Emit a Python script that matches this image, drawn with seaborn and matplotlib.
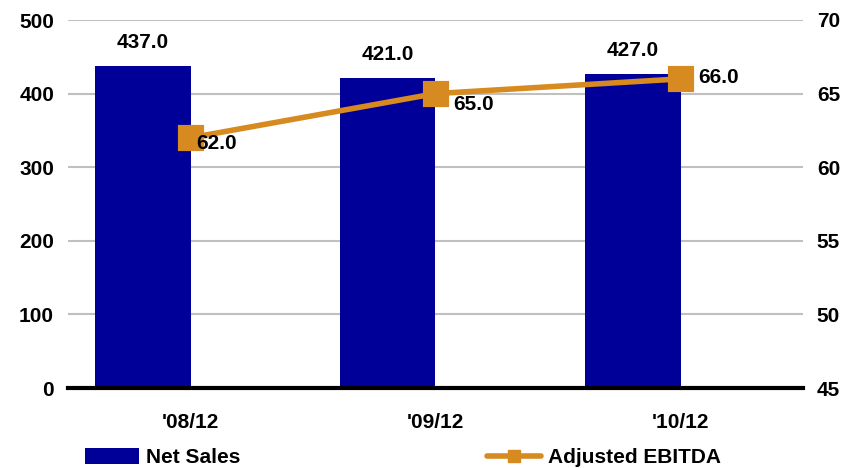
import matplotlib
matplotlib.use("Agg")
import matplotlib.pyplot as plt
import seaborn as sns
import pandas as pd
from matplotlib.patches import Patch
from matplotlib.lines import Line2D

periods = ["'08/12", "'09/12", "'10/12"]
net_sales = [437.0, 421.0, 427.0]
adj_ebitda = [62.0, 65.0, 66.0]
left_ticks = [0, 100, 200, 300, 400, 500]
right_ticks = [45, 50, 55, 60, 65, 70]

NAVY = "#000099"
ORANGE = "#D68A1F"

sns.set_theme(style="white")
plt.rcParams["font.family"] = ["Liberation Sans", "DejaVu Sans"]
plt.rcParams["font.weight"] = "bold"
for k in ["text.color", "axes.labelcolor", "xtick.color", "ytick.color"]:
    plt.rcParams[k] = "black"

FS = 15

fig = plt.figure(figsize=(8.58, 4.68), dpi=100)
ax = fig.add_axes([68/858, 1-388/468, (803-68)/858, (388-20)/468])

df = pd.DataFrame({"period": periods, "sales": net_sales, "series": ["Net Sales"]*3})
sns.barplot(data=df, x="period", y="sales", hue="series",
            hue_order=["Net Sales", "_gap"], palette={"Net Sales": NAVY, "_gap": "white"},
            dodge=True, width=0.78, saturation=1, ax=ax, legend=False, errorbar=None,
            linewidth=0)
ax.set_xlim(-0.5, 2.5)
ax.set_ylim(0, 500)
ax.set_yticks(left_ticks)
ax.set_xlabel("")
ax.set_ylabel("")
ax.grid(axis="y", color="#C0C0C0", linewidth=1.5)
ax.set_axisbelow(True)
for s in ["top", "right", "left"]:
    ax.spines[s].set_visible(False)
ax.spines["bottom"].set_color("black")
ax.spines["bottom"].set_linewidth(3)
ax.tick_params(axis="both", length=0, labelsize=FS, colors="black")
ax.tick_params(axis="y", pad=10)
ax.tick_params(axis="x", pad=18)
for lab in ax.get_xticklabels() + ax.get_yticklabels():
    lab.set_fontweight("bold")

for cont in ax.containers:
    ax.bar_label(cont, fmt="%.1f", padding=10, fontsize=FS, fontweight="bold", color="black")

ax2 = ax.twinx()
sns.pointplot(x=periods, y=adj_ebitda, ax=ax2, color=ORANGE, markers="s",
              markersize=16, linewidth=4, errorbar=None)
ax2.set_xlim(-0.5, 2.5)
ax2.set_ylim(45, 70)
ax2.set_yticks(right_ticks)
ax2.set_ylabel("")
ax2.grid(False)
for s in ["top", "right", "left", "bottom"]:
    ax2.spines[s].set_visible(False)
ax2.tick_params(axis="y", length=0, labelsize=FS, pad=10, colors="black")
for lab in ax2.get_yticklabels():
    lab.set_fontweight("bold")

offsets = [(4, -4), (13, -8), (13, 1)]
for i, v in enumerate(adj_ebitda):
    ax2.annotate(f"{v:.1f}", (i, v), xytext=offsets[i], textcoords="offset points",
                 ha="left", va="center", fontsize=FS, fontweight="bold", color="black")

handles = [Patch(facecolor=NAVY, edgecolor="none"),
           Line2D([], [], color=ORANGE, linewidth=4, marker="s", markersize=8)]
fig.legend(handles, ["Net Sales", "Adjusted EBITDA"], loc="center left",
           bbox_to_anchor=(85/858, 0.022), ncol=2, frameon=False,
           prop={"weight": "bold", "size": FS}, handlelength=2.6, handletextpad=0.35,
           columnspacing=11.8, borderpad=0, borderaxespad=0, handleheight=0.75)

fig.savefig("out.png", dpi=100)
